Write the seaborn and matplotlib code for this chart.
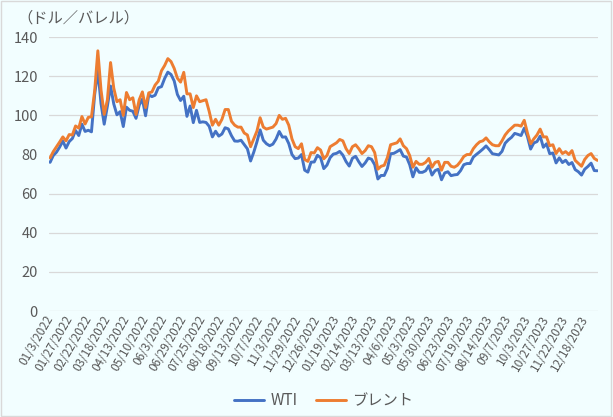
import numpy as np
import pandas as pd
import matplotlib
matplotlib.use("Agg")
import matplotlib.pyplot as plt
from matplotlib.patches import Rectangle
import seaborn as sns

# tick labels shown on the category axis (one every 18 trading days)
tick_labels = [
    "01/3/2022", "01/27/2022", "02/22/2022", "03/18/2022", "04/13/2022",
    "05/10/2022", "06/3/2022", "06/29/2022", "07/25/2022", "08/18/2022",
    "09/13/2022", "10/7/2022", "11/3/2022", "11/29/2022", "12/26/2022",
    "01/19/2023", "02/14/2023", "03/13/2023", "04/6/2023", "05/3/2023",
    "05/30/2023", "06/23/2023", "07/19/2023", "08/14/2023", "09/7/2023",
    "10/3/2023", "10/27/2023", "11/22/2023", "12/18/2023",
]
tick_every = 18
n_days = 517
step = 3

# WTI spot price (USD/bbl)
wti = [
    76.0, 79.5, 81.2, 83.8, 86.9, 83.3,
    86.6, 88.2, 92.3, 89.7, 95.5, 91.8,
    92.4, 91.6, 110.6, 123.0, 106.0, 95.5,
    104.7, 115.0, 105.9, 100.3, 101.9, 94.3,
    104.2, 102.6, 102.1, 98.5, 105.2, 108.3,
    99.8, 110.5, 109.6, 110.3, 114.1, 114.7,
    118.9, 122.1, 120.9, 117.6, 110.7, 107.6,
    109.8, 99.5, 104.8, 96.3, 102.6, 96.4,
    96.7, 96.4, 94.4, 89.0, 91.9, 89.4,
    90.5, 93.7, 93.1, 89.6, 86.9, 86.8,
    87.3, 85.1, 82.9, 76.7, 81.2, 86.5,
    92.6, 87.3, 85.5, 84.5, 85.3, 87.9,
    91.8, 88.9, 89.0, 85.6, 80.0, 77.9,
    78.2, 80.0, 72.0, 71.0, 76.1, 76.2,
    79.6, 78.4, 72.8, 74.6, 78.4, 80.2,
    80.6, 81.6, 79.7, 76.4, 74.1, 78.1,
    79.1, 76.3, 73.9, 75.7, 78.2, 77.6,
    74.8, 67.5, 69.3, 69.3, 72.9, 80.4,
    80.6, 81.5, 82.5, 79.2, 78.7, 74.8,
    68.6, 73.2, 70.9, 70.9, 71.7, 74.3,
    69.5, 71.8, 72.5, 67.1, 70.6, 71.2,
    69.2, 69.6, 69.8, 71.8, 74.8, 75.4,
    75.4, 78.7, 80.1, 81.4, 82.8, 84.4,
    82.5, 80.4, 80.1, 79.8, 81.6, 85.8,
    87.5, 88.8, 90.8, 90.3, 89.7, 93.5,
    89.2, 82.8, 85.9, 86.6, 89.4, 83.7,
    85.5, 80.4, 80.8, 75.7, 78.3, 75.9,
    77.1, 74.9, 75.9, 72.3, 71.2, 69.5,
    72.5, 73.9, 75.6, 71.8, 71.7,
]

# Brent spot price (USD/bbl)
brent = [
    78.3, 81.5, 83.9, 86.4, 89.0, 87.0,
    90.2, 90.0, 94.6, 93.5, 99.4, 95.6,
    99.0, 99.3, 112.5, 133.0, 113.0, 100.5,
    107.9, 127.0, 114.0, 107.0, 108.0, 100.0,
    111.7, 108.0, 109.0, 100.5, 108.0, 112.0,
    104.0, 111.5, 112.0, 115.5, 117.5, 122.8,
    125.5, 129.0, 127.5, 124.0, 119.0, 117.0,
    122.0, 111.0, 111.0, 104.0, 110.0, 107.0,
    107.5, 108.0, 102.0, 95.0, 98.0, 95.0,
    98.0, 103.0, 103.0, 97.0, 95.0, 94.0,
    94.0, 91.0, 90.0, 84.0, 88.0, 92.0,
    98.8, 94.0, 93.0, 93.5, 94.0, 95.8,
    100.0, 98.0, 98.5, 95.0, 88.0, 84.0,
    83.0, 85.5, 77.5, 76.5, 81.0, 80.8,
    83.5, 82.3, 77.8, 79.5, 84.0, 85.0,
    86.0, 87.7, 87.0, 83.0, 80.5, 84.0,
    85.0, 83.0, 80.5, 82.0, 84.5, 84.0,
    81.0, 72.5, 74.0, 74.5, 78.5, 85.0,
    85.5, 86.0, 88.0, 84.5, 83.0, 79.5,
    73.5, 76.5, 75.0, 75.0, 76.0, 78.0,
    73.5, 76.0, 76.5, 72.0, 76.0, 76.0,
    74.0, 73.5, 74.5, 76.5, 79.0, 80.0,
    80.0, 83.0, 85.0, 86.5, 87.0, 88.5,
    86.5, 85.0, 84.5, 84.5, 87.0, 90.0,
    92.0, 93.5, 95.0, 95.0, 94.5, 97.5,
    91.0, 85.5, 88.0, 90.0, 93.0, 89.0,
    89.0, 84.5, 85.0, 80.5, 83.0, 80.5,
    81.5, 80.0, 82.0, 77.0, 75.5, 74.0,
    77.5, 79.5, 80.5, 78.0, 77.0,
]

day = np.arange(len(wti)) * step
df = pd.DataFrame({
    "day": np.concatenate([day, day]),
    "price": wti + brent,
    "series": ["WTI"] * len(wti) + ["ブレント"] * len(brent),
})

bg = "#F2FEFF"
sns.set_style("white")
plt.rcParams["font.family"] = ["Noto Sans CJK JP", "DejaVu Sans"]

fig = plt.figure(figsize=(6.13, 4.17), dpi=100, facecolor=bg)
ax = fig.add_axes([0.080, 0.254, 0.8955, 0.657], facecolor=bg)

sns.lineplot(data=df, x="day", y="price", hue="series",
             palette={"WTI": "#4472C4", "ブレント": "#ED7D31"},
             linewidth=2.1, ax=ax)

ax.set_ylim(0, 140)
ax.set_yticks(range(0, 141, 20))
ax.set_xlim(-1, n_days - 0.5)
ax.set_xticks(np.arange(len(tick_labels)) * tick_every)
ax.set_xticklabels(tick_labels, rotation=60, ha="right", va="center",
                   rotation_mode="anchor", fontsize=8.5, color="#595959")
ax.tick_params(axis="y", labelsize=10.5, labelcolor="#595959", length=0, pad=8)
ax.tick_params(axis="x", length=0, pad=4)
ax.grid(axis="y", color="#D9D9D9", linewidth=0.9)
for s in ax.spines.values():
    s.set_visible(False)
ax.set_xlabel("")
ax.set_ylabel("")

fig.text(0.028, 0.957, "（ドル／バレル）", fontsize=11, color="#595959",
         ha="left", va="center")

handles, labels = ax.get_legend_handles_labels()
ax.legend(handles, labels, loc="center", bbox_to_anchor=(0.5, -0.328),
          ncol=2, frameon=False, fontsize=11, handlelength=2.0,
          columnspacing=1.2, handletextpad=0.4, labelcolor="#595959")

fig.patches.append(Rectangle((0.002, 0.003), 0.994, 0.994, transform=fig.transFigure,
                             fill=False, edgecolor="#D9D9D9", linewidth=1.0))

fig.savefig("out.png", dpi=100, facecolor=bg)
